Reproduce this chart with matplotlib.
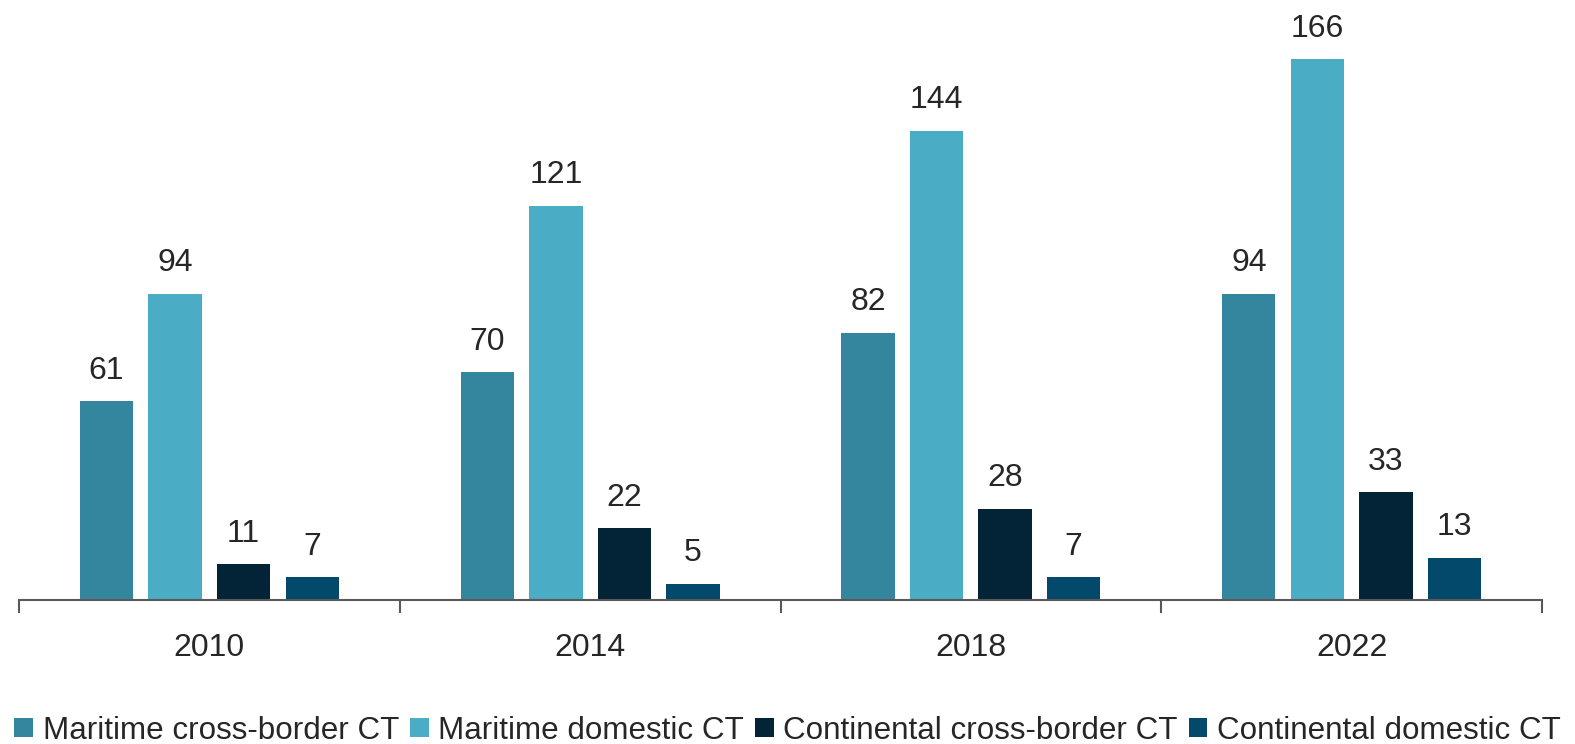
import numpy as np
import matplotlib.pyplot as plt

years = ["2010", "2014", "2018", "2022"]
series_names = ["Maritime cross-border CT", "Maritime domestic CT",
                "Continental cross-border CT", "Continental domestic CT"]
maritime_cross = [61, 70, 82, 94]
maritime_dom = [94, 121, 144, 166]
continental_cross = [11, 22, 28, 33]
continental_dom = [7, 5, 7, 13]
colors = ["#33869D", "#4BACC6", "#032437", "#02496B"]

plt.rcParams['font.family'] = ['Liberation Sans', 'DejaVu Sans']
text_color = "#262626"

fig = plt.figure(figsize=(15.75, 7.44), dpi=100)
ax = fig.add_axes([19 / 1575, 1 - 600 / 744, (1542 - 19) / 1575, 590 / 744])

x = np.arange(len(years))
width = 0.14
step = 0.18
all_series = [maritime_cross, maritime_dom, continental_cross, continental_dom]
for i, (vals, name, c) in enumerate(zip(all_series, series_names, colors)):
    pos = x + (i - 1.5) * step
    bars = ax.bar(pos, vals, width, color=c, label=name, zorder=2)
    ax.bar_label(bars, labels=[str(v) for v in vals], padding=11,
                 fontsize=23, color=text_color)

ax.set_xlim(-0.5, len(years) - 0.5)
ax.set_ylim(0, 181)

# group labels in the middle, ticks on the group boundaries
ax.set_xticks(x)
ax.set_xticklabels(years, fontsize=23, color=text_color)
ax.tick_params(axis='x', which='major', length=0, pad=24)
ax.set_xticks(np.arange(len(years) + 1) - 0.5, minor=True)
ax.tick_params(axis='x', which='minor', length=9, width=1.5, color="#595959")
ax.set_yticks([])

for side in ["top", "right", "left"]:
    ax.spines[side].set_visible(False)
ax.spines["bottom"].set_color("#595959")
ax.spines["bottom"].set_linewidth(1.5)

leg = fig.legend(loc='lower center', bbox_to_anchor=(0.5, -0.019), ncol=4,
                 frameon=False, fontsize=22.6, handlelength=0.6, handleheight=0.6,
                 handletextpad=0.3, columnspacing=0.35, borderaxespad=0)
for t in leg.get_texts():
    t.set_color(text_color)

fig.savefig("out.png", dpi=100)
